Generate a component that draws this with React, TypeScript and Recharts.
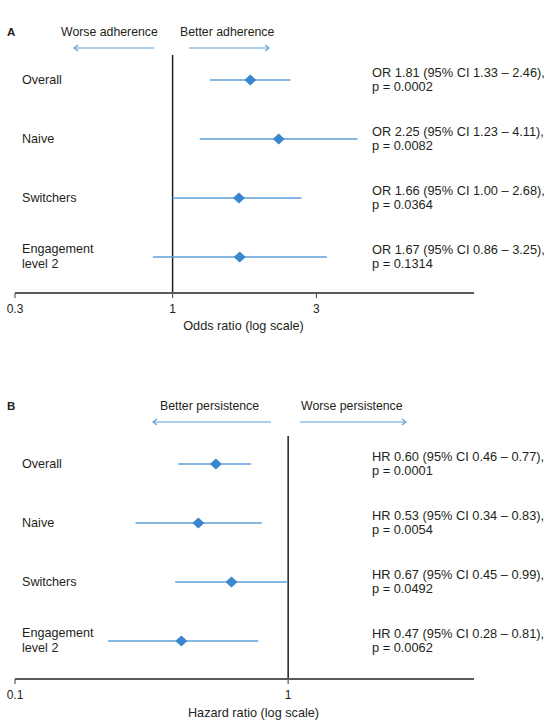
import { ScatterChart, Scatter, XAxis, YAxis, ErrorBar, ReferenceLine } from 'recharts';

const GROUPS = ['Overall', 'Naive', 'Switchers', 'Engagement\nlevel 2'];

// A: adherence, odds ratios
const OR_EST = [1.81, 2.25, 1.66, 1.67];
const OR_LO = [1.33, 1.23, 1.0, 0.86];
const OR_HI = [2.46, 4.11, 2.68, 3.25];
const OR_P = ['0.0002', '0.0082', '0.0364', '0.1314'];
const OR_TICKS = [0.3, 1, 3];

// B: persistence, hazard ratios
const HR_EST = [0.6, 0.53, 0.67, 0.47];
const HR_LO = [0.46, 0.34, 0.45, 0.28];
const HR_HI = [0.77, 0.83, 0.99, 0.81];
const HR_P = ['0.0001', '0.0054', '0.0492', '0.0062'];
const HR_TICKS = [0.145, 1];
const HR_TICK_LABELS = ['0.1', '1'];

const FONT = '"Liberation Sans", Arial, Helvetica, sans-serif';
const INK = '#231f20';
const DOT = '#3b87cd';
const BAR = '#5fa0da';
const AXIS = '#5a5a5a';

const buildRows = (est: number[], lo: number[], hi: number[]) =>
  est.map((e, i) => ({ row: i + 1, est: e, err: [e - lo[i], hi[i] - e] }));

const buildNotes = (prefix: string, est: number[], lo: number[], hi: number[], p: string[]) =>
  est.map((e, i) => [
    `${prefix} ${e.toFixed(2)} (95% CI ${lo[i].toFixed(2)} \u2013 ${hi[i].toFixed(2)}),`,
    `p = ${p[i]}`,
  ]);

const Diamond = (props: any) => {
  const { cx, cy } = props;
  return (
    <polygon
      points={`${cx - 6},${cy} ${cx},${cy - 5.5} ${cx + 6},${cy} ${cx},${cy + 5.5}`}
      fill={DOT}
    />
  );
};

const NAME_LH = 14.5;
const NOTE_LH = 14;

const RowTick = ({ y, payload, notes }: any) => {
  const idx = payload.value - 1;
  const name = GROUPS[idx].split('\n');
  const note = notes[idx];
  const nameY = y - ((name.length - 1) * NAME_LH) / 2 + 3.5;
  const noteY = y - NOTE_LH / 2 + 4;
  return (
    <g>
      <text x={22} y={nameY} fill={INK} fontSize={12.6} fontFamily={FONT}>
        {name.map((l: string, i: number) => (
          <tspan key={i} x={22} y={nameY + i * NAME_LH}>{l}</tspan>
        ))}
      </text>
      <text x={372} y={noteY} fill={INK} fontSize={12.8} fontFamily={FONT}>
        {note.map((l: string, i: number) => (
          <tspan key={i} x={372} y={noteY + i * NOTE_LH}>{l}</tspan>
        ))}
      </text>
    </g>
  );
};

type PanelProps = {
  rows: any[];
  notes: string[][];
  domain: [number, number];
  ticks: number[];
  tickFormatter: (v: number, i: number) => string;
  xLabel: string;
  labelOffset: number;
  labelDx: number;
  rowDomain: [number, number];
  top: number;
  height: number;
  marginTop: number;
  axisHeight: number;
};

const Panel = (p: PanelProps) => (
  <div style={{ position: 'absolute', left: 0, top: p.top }}>
    <ScatterChart
      width={547}
      height={p.height}
      margin={{ top: p.marginTop, right: 73, bottom: 0, left: 14 }}
    >
      <XAxis
        type="number"
        dataKey="est"
        scale="log"
        domain={p.domain}
        ticks={p.ticks}
        interval={0}
        allowDataOverflow
        height={p.axisHeight}
        tickSize={5}
        tickMargin={6}
        tickFormatter={p.tickFormatter}
        tick={{ fontSize: 12, fill: INK, fontFamily: FONT }}
        axisLine={{ stroke: AXIS, strokeWidth: 2 }}
        tickLine={{ stroke: AXIS, strokeWidth: 1.2 }}
        label={{
          value: p.xLabel,
          position: 'insideBottom',
          offset: p.labelOffset,
          dx: p.labelDx,
          fill: INK,
          fontSize: 12.7,
          fontFamily: FONT,
        }}
      />
      <YAxis
        type="number"
        dataKey="row"
        domain={p.rowDomain}
        reversed
        allowDataOverflow
        ticks={[1, 2, 3, 4]}
        interval={0}
        width={1}
        axisLine={false}
        tickLine={false}
        tick={(t: any) => <RowTick {...t} notes={p.notes} />}
      />
      <ReferenceLine x={1} stroke="#1e1e1e" strokeWidth={1.5} />
      <Scatter data={p.rows} shape={<Diamond />} isAnimationActive={false}>
        <ErrorBar
          dataKey="err"
          direction="x"
          width={0}
          stroke={BAR}
          strokeWidth={1.3}
          isAnimationActive={false}
        />
      </Scatter>
    </ScatterChart>
  </div>
);

const Arrow = ({ x1, x2, y, left }: { x1: number; x2: number; y: number; left: boolean }) => {
  const hx = left ? x1 : x2;
  const d = left ? 4 : -4;
  return (
    <g stroke={BAR} strokeWidth={1.2} fill="none">
      <line x1={x1} y1={y} x2={x2} y2={y} />
      <polyline points={`${hx + d},${y - 3} ${hx},${y} ${hx + d},${y + 3}`} />
    </g>
  );
};

export default function App() {
  const orRows = buildRows(OR_EST, OR_LO, OR_HI);
  const hrRows = buildRows(HR_EST, HR_LO, HR_HI);
  const orNotes = buildNotes('OR', OR_EST, OR_LO, OR_HI, OR_P);
  const hrNotes = buildNotes('HR', HR_EST, HR_LO, HR_HI, HR_P);
  const txt = { fill: INK, fontFamily: FONT, fontSize: 12.3 };

  return (
    <div style={{ position: 'absolute', left: 0, top: 0, width: 547, height: 722, background: '#fff' }}>
      <Panel
        rows={orRows}
        notes={orNotes}
        domain={[0.3, 10]}
        ticks={OR_TICKS}
        tickFormatter={(v) => String(v)}
        xLabel="Odds ratio (log scale)"
        labelOffset={10}
        labelDx={-1}
        rowDomain={[0.576, 4.61]}
        top={0}
        height={340}
        marginTop={55}
        axisHeight={47}
      />
      <Panel
        rows={hrRows}
        notes={hrNotes}
        domain={[0.145, 3.72]}
        ticks={HR_TICKS}
        tickFormatter={(_v, i) => HR_TICK_LABELS[i]}
        xLabel="Hazard ratio (log scale)"
        labelOffset={5}
        labelDx={9}
        rowDomain={[0.525, 4.644]}
        top={385}
        height={337}
        marginTop={51}
        axisHeight={43}
      />
      <svg
        width={547}
        height={722}
        style={{ position: 'absolute', left: 0, top: 0, pointerEvents: 'none' }}
      >
        <text x={7} y={36} fill={INK} fontFamily={FONT} fontSize={11.5} fontWeight="bold">A</text>
        <text x={61} y={36} {...txt}>Worse adherence</text>
        <text x={180} y={36} {...txt}>Better adherence</text>
        <Arrow x1={74} x2={154} y={48} left />
        <Arrow x1={189} x2={269} y={48} left={false} />

        <text x={7} y={410} fill={INK} fontFamily={FONT} fontSize={11.5} fontWeight="bold">B</text>
        <text x={160} y={410} {...txt}>Better persistence</text>
        <text x={301} y={410} {...txt}>Worse persistence</text>
        <Arrow x1={153} x2={271} y={422} left />
        <Arrow x1={300} x2={406} y={422} left={false} />
      </svg>
    </div>
  );
}
